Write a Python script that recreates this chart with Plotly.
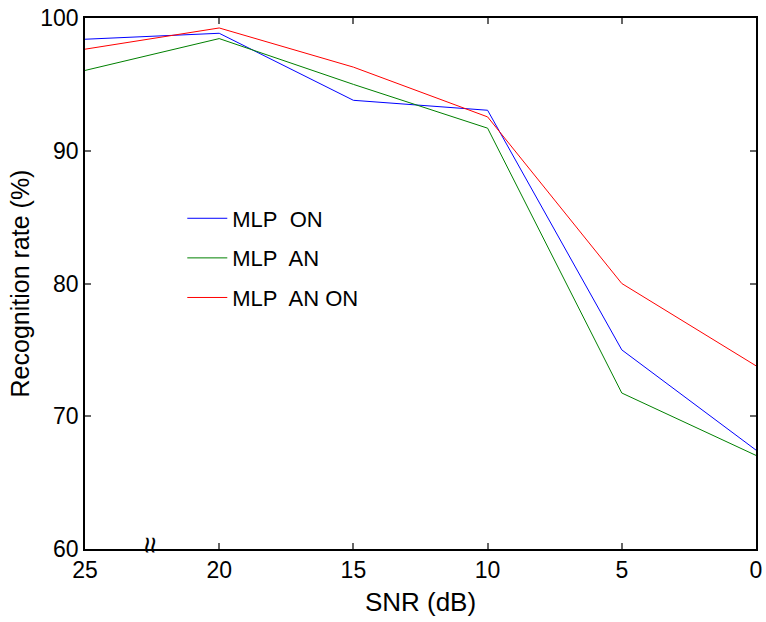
import plotly.graph_objects as go

snr = [25, 20, 15, 10, 5, 0]
mlp_on = [98.4, 98.85, 93.8, 93.05, 75.0, 67.45]
mlp_an = [96.05, 98.45, 95.0, 91.7, 71.75, 67.05]
mlp_an_on = [97.65, 99.25, 96.3, 92.55, 80.0, 73.8]

series = [
    ("MLP\u00a0 ON", mlp_on, "#0000ff"),
    ("MLP\u00a0 AN", mlp_an, "#008000"),
    ("MLP\u00a0 AN ON", mlp_an_on, "#ff0000"),
]

fig = go.Figure()
for i, (name, vals, col) in enumerate(series):
    fig.add_trace(go.Scatter(x=snr, y=vals, mode="lines", name=name,
                             line=dict(color=col, width=1), legendgroup=f"g{i}"))

font_family = "Liberation Sans, Arial, Helvetica, sans-serif"
axis_common = dict(showline=True, linecolor="black", linewidth=1.5, mirror="allticks",
                   ticks="inside", ticklen=6, tickcolor="#666666", tickwidth=1.5,
                   showgrid=False, zeroline=False, automargin=False,
                   tickfont=dict(size=23, color="black", family=font_family))

fig.update_layout(
    width=766, height=622,
    margin=dict(l=85, r=10, t=18, b=73),
    paper_bgcolor="white", plot_bgcolor="white",
    font=dict(family=font_family, color="black"),
    xaxis=dict(range=[25, 0], tickvals=[25, 20, 15, 10, 5, 0],
               title=dict(text="SNR (dB)", font=dict(size=26, family=font_family), standoff=10),
               **axis_common),
    yaxis=dict(range=[60, 100], tickvals=[60, 70, 80, 90, 100],
               title=dict(text="Recognition rate (%)", font=dict(size=25, family=font_family), standoff=4),
               **axis_common),
    showlegend=True,
    legend=dict(x=0.145, y=0.662, xanchor="left", yanchor="top", bgcolor="rgba(0,0,0,0)",
                borderwidth=0, font=dict(size=22, color="black", family=font_family),
                tracegroupgap=8, itemwidth=40),
)

fig.add_annotation(x=22.6, y=0, xref="x", yref="paper", text="≈", showarrow=False,
                   textangle=-90, yshift=-6, font=dict(size=30, color="black"))

fig.write_html("out.html")
